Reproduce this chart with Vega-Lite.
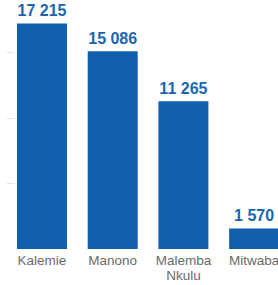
{
  "$schema": "https://vega.github.io/schema/vega-lite/v6.json",
  "autosize": "none",
  "width": 264,
  "height": 249,
  "padding": {"left": 14, "top": 0, "right": 0, "bottom": 36},
  "background": "white",
  "config": {
    "view": {"stroke": null},
    "locale": {"number": {"decimal": ",", "thousands": " ", "grouping": [3], "currency": ["", ""]}}
  },
  "data": {
    "values": [
      {"district": "Kalemie", "value": 17215},
      {"district": "Manono", "value": 15086},
      {"district": "Malemba Nkulu", "value": 11265},
      {"district": "Mitwaba", "value": 1570}
    ]
  },
  "encoding": {
    "x": {
      "field": "district",
      "type": "nominal",
      "sort": null,
      "scale": {"range": [3, 265.1], "paddingInner": 0.293, "paddingOuter": 0},
      "axis": {
        "title": null,
        "domain": false,
        "ticks": false,
        "labelAngle": 0,
        "labelPadding": 4,
        "labelFont": "Liberation Sans",
        "labelFontSize": 13.5,
        "labelColor": "#6b6b6b",
        "labelLineHeight": 15,
        "labelOverlap": false,
        "labelBound": false,
        "labelExpr": "split(datum.label, ' ')"
      }
    },
    "y": {
      "field": "value",
      "type": "quantitative",
      "scale": {"domain": [0, 19000], "nice": false},
      "axis": {
        "title": null,
        "domain": false,
        "labels": false,
        "grid": false,
        "ticks": true,
        "tickSize": 8,
        "tickColor": "#ebe7d6",
        "values": [5000, 10000, 15000]
      }
    }
  },
  "layer": [
    {"mark": {"type": "bar", "color": "#1060ae"}},
    {
      "mark": {
        "type": "text",
        "baseline": "bottom",
        "dy": -4,
        "font": "Liberation Sans",
        "fontSize": 16,
        "fontWeight": "bold",
        "color": "#1a65b2"
      },
      "encoding": {"text": {"field": "value", "type": "quantitative", "format": ",d"}}
    }
  ]
}
